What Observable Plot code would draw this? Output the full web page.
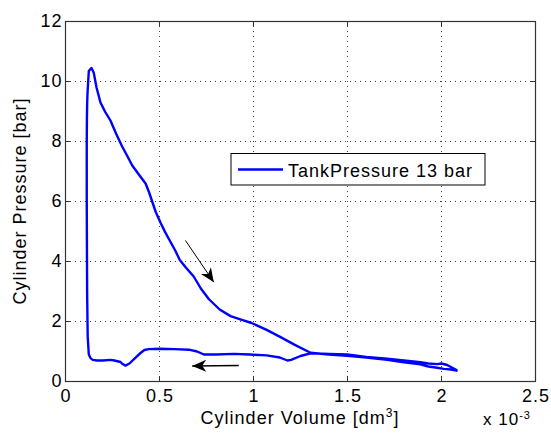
<!DOCTYPE html>
<html>
<head>
<meta charset="utf-8">
<script src="https://cdn.jsdelivr.net/npm/d3@7"></script>
<script src="https://cdn.jsdelivr.net/npm/@observablehq/plot@0.6"></script>
<style>
  html, body { margin: 0; padding: 0; background: #fff; }
  #chart { width: 551px; height: 440px; }
</style>
</head>
<body>
<div id="chart"></div>
<script>
// ---- data (volume in 1e-3 dm^3, pressure in bar) ----
const xTicks = [0, 0.5, 1, 1.5, 2, 2.5];
const yTicks = [0, 2, 4, 6, 8, 10, 12];
const xTickLabels = ["0", "0.5", "1", "1.5", "2", "2.5"];
const yTickLabels = ["0", "2", "4", "6", "8", "10", "12"];

const seriesName = "TankPressure 13 bar";

// one cycle: rise at small volume, expansion to the right, compression back to the left
const volume = [
  0.118, 0.115, 0.113, 0.113, 0.114, 0.115, 0.117, 0.124, 0.138, 0.150, 0.165, 0.186,
  0.210, 0.239, 0.270, 0.300, 0.330, 0.355, 0.390, 0.426, 0.445, 0.461, 0.480, 0.505,
  0.530, 0.550, 0.585, 0.608, 0.640, 0.682, 0.720, 0.762, 0.820, 0.878, 0.930, 0.990,
  1.070, 1.144, 1.220, 1.303, 1.400, 1.498, 1.600, 1.711, 1.800, 1.888, 1.930, 1.977,
  2.012, 2.050, 2.080,
  2.080, 2.060, 2.030, 2.000, 1.977, 1.930, 1.888, 1.800, 1.711, 1.600, 1.498, 1.400,
  1.303, 1.250, 1.200, 1.180, 1.140, 1.070, 0.980, 0.895, 0.800, 0.736, 0.700, 0.656,
  0.580, 0.500, 0.443, 0.420, 0.399, 0.370, 0.340, 0.319, 0.300, 0.293, 0.260, 0.239,
  0.200, 0.168, 0.145, 0.133, 0.124, 0.118
];
const pressure = [
  1.50, 3.00, 6.00, 8.00, 8.80, 9.20, 9.60, 10.35, 10.45, 10.30, 9.80, 9.30,
  9.00, 8.70, 8.25, 7.85, 7.50, 7.20, 6.90, 6.60, 6.30, 6.00, 5.65, 5.30,
  4.98, 4.75, 4.35, 4.05, 3.80, 3.50, 3.10, 2.75, 2.40, 2.18, 2.07, 1.95,
  1.72, 1.48, 1.22, 0.96, 0.90, 0.86, 0.80, 0.72, 0.64, 0.57, 0.50, 0.46,
  0.42, 0.40, 0.36,
  0.38, 0.45, 0.55, 0.60, 0.58, 0.60, 0.64, 0.70, 0.76, 0.82, 0.90, 0.92,
  0.94, 0.85, 0.72, 0.70, 0.80, 0.87, 0.90, 0.92, 0.90, 0.90, 1.00, 1.06,
  1.08, 1.09, 1.08, 1.05, 0.95, 0.78, 0.60, 0.53, 0.60, 0.65, 0.70, 0.72,
  0.70, 0.70, 0.72, 0.78, 0.90, 1.50
];

// direction arrows (start -> tip)
const arrowX1 = [0.638, 0.922];
const arrowY1 = [4.70, 0.53];
const arrowX2 = [0.789, 0.674];
const arrowY2 = [3.31, 0.52];
const arrowWidths = [1, 1.5];

// ---- build ----
const W = 551, H = 440;
const mL = 65, mR = 16, mT = 21, mB = 59;
const xDomain = [0, 2.5], yDomain = [0, 12];

const points = volume.map((v, i) => ({v, p: pressure[i]}));

const sx = Plot.scale({x: {domain: xDomain, range: [mL, W - mR]}});
const sy = Plot.scale({y: {domain: yDomain, range: [H - mB, mT]}});
const arrows = arrowX1.map((x1, i) => {
  const dx = sx.apply(arrowX2[i]) - sx.apply(x1);
  const dy = sy.apply(arrowY2[i]) - sy.apply(arrowY1[i]);
  return {x1, y1: arrowY1[i], x2: arrowX2[i], y2: arrowY2[i], w: arrowWidths[i],
          angle: Math.atan2(dx, -dy) * 180 / Math.PI};
});

// filled arrowhead, tip at origin, pointing up
const arrowHead = {
  draw(context) {
    context.moveTo(0, 0);
    context.lineTo(6, 14);
    context.lineTo(0, 10);
    context.lineTo(-6, 14);
    context.closePath();
  }
};

const innerW = W - mL - mR, innerH = H - mT - mB;
const tickLen = 5;
const font = "'Liberation Sans', Arial, sans-serif";

const plot = Plot.plot({
  width: W,
  height: H,
  marginLeft: mL,
  marginRight: mR,
  marginTop: mT,
  marginBottom: mB,
  x: {domain: xDomain},
  y: {domain: yDomain},
  style: {fontFamily: font, fontSize: "18px", letterSpacing: "1px", background: "#fff", color: "#000"},
  marks: [
    Plot.gridX(xTicks, {stroke: "#000", strokeOpacity: 0.75, strokeDasharray: "1,4"}),
    Plot.gridY(yTicks, {stroke: "#000", strokeOpacity: 0.75, strokeDasharray: "1,4"}),
    Plot.tickX(xTicks, {x: d => d, insetTop: innerH - tickLen, stroke: "#333"}),
    Plot.tickX(xTicks, {x: d => d, insetBottom: innerH - tickLen, stroke: "#333"}),
    Plot.tickY(yTicks, {y: d => d, insetRight: innerW - tickLen, stroke: "#333"}),
    Plot.tickY(yTicks, {y: d => d, insetLeft: innerW - tickLen, stroke: "#333"}),
    Plot.frame({stroke: "#333", strokeWidth: 1.2}),
    Plot.axisX(xTicks, {tickSize: 0, tickPadding: 8, label: null, dx: 0.5, tickFormat: (d, i) => xTickLabels[i]}),
    Plot.axisY(yTicks, {tickSize: 0, tickPadding: 3, label: null, tickFormat: (d, i) => yTickLabels[i]}),
    Plot.line(points, {x: "v", y: "p", stroke: "#0000ff", strokeWidth: 2.4, strokeLinejoin: "round"}),
    Plot.link(arrows, {x1: "x1", y1: "y1", x2: "x2", y2: "y2", stroke: "#000", strokeWidth: "w"}),
    Plot.dot(arrows, {x: "x2", y: "y2", symbol: arrowHead, rotate: "angle", fill: "#000", stroke: "none"})
  ]
});

document.getElementById("chart").appendChild(plot);

// ---- labels and legend ----
const svg = d3.select(plot);

const xl = svg.append("text")
  .attr("x", mL + innerW / 2).attr("y", 424)
  .attr("text-anchor", "middle")
  .attr("font-family", font).attr("font-size", 18).attr("fill", "#000");
xl.append("tspan").text("Cylinder Volume [dm");
xl.append("tspan").attr("font-size", 12).attr("dy", -7).text("3");
xl.append("tspan").attr("dy", 7).text("]");

svg.append("text")
  .attr("transform", `translate(26,${mT + innerH / 2}) rotate(-90)`)
  .attr("text-anchor", "middle")
  .attr("font-family", font).attr("font-size", 18).attr("fill", "#000")
  .text("Cylinder Pressure [bar]");

const ex = svg.append("text")
  .attr("x", 483).attr("y", 425)
  .attr("text-anchor", "start")
  .attr("font-family", font).attr("font-size", 17).attr("fill", "#000");
ex.append("tspan").text("x 10");
ex.append("tspan").attr("font-size", 11).attr("dy", -6).text("-3");

const lg = svg.append("g");
lg.append("rect")
  .attr("x", 231).attr("y", 153.5).attr("width", 254).attr("height", 31.5)
  .attr("fill", "#fff").attr("stroke", "#000").attr("stroke-width", 1);
lg.append("line")
  .attr("x1", 238).attr("x2", 283).attr("y1", 169.5).attr("y2", 169.5)
  .attr("stroke", "#0000ff").attr("stroke-width", 2.4);
lg.append("text")
  .attr("x", 288).attr("y", 176.5)
  .attr("text-anchor", "start")
  .attr("font-family", font).attr("font-size", 18).attr("fill", "#000")
  .text(seriesName);
</script>
</body>
</html>
